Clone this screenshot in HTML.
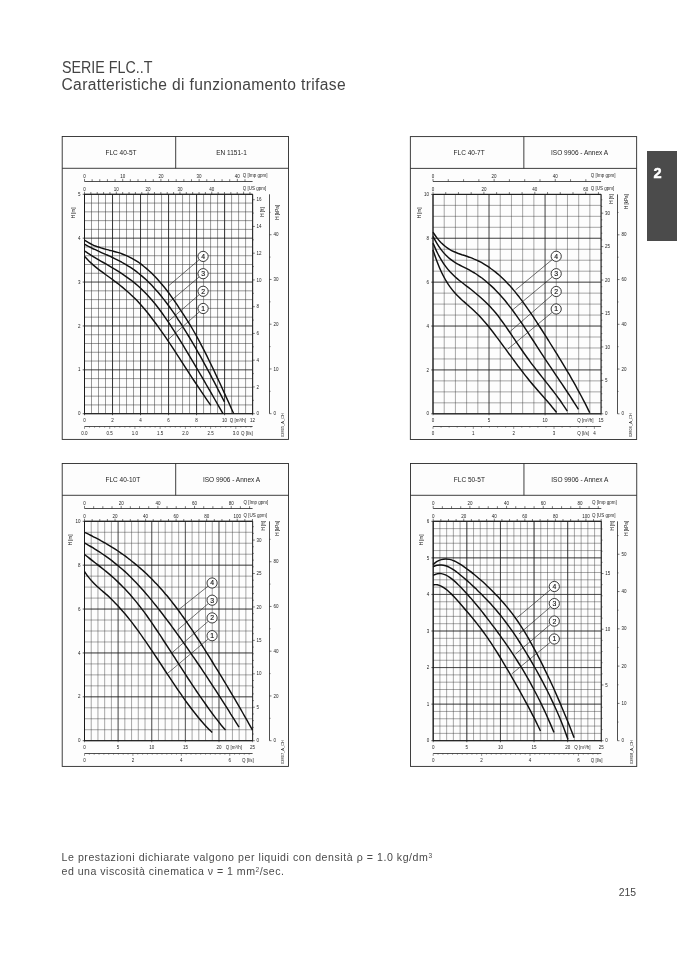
<!DOCTYPE html>
<html lang="it"><head><meta charset="utf-8"><title>SERIE FLC..T</title>
<style>
html,body{margin:0;padding:0;background:#fff;}
body{width:677px;height:958px;position:relative;overflow:hidden;font-family:"Liberation Sans", sans-serif;}
.t{position:absolute;white-space:nowrap;color:#3a3a3a;}
#h1{left:61.5px;top:59px;font-size:15.6px;line-height:17px;transform:scaleX(0.915);transform-origin:0 0;color:#444;}
#h2{left:61.5px;top:76px;font-size:15.6px;line-height:17px;letter-spacing:0.35px;color:#444;}
#f1{left:61.5px;top:849.5px;font-size:10.6px;line-height:14px;color:#4a4a4a;letter-spacing:0.55px;}
#f2{left:61.5px;top:864.4px;font-size:10.6px;line-height:14px;color:#4a4a4a;letter-spacing:0.49px;}
#pn{left:618.8px;top:887.4px;font-size:10.4px;line-height:12px;color:#444;}
#tab{position:absolute;left:647px;top:150.8px;width:30px;height:89.8px;background:#4b4b4b;}
#tabn{position:absolute;left:647px;top:164.8px;width:21px;text-align:center;color:#fff;font-weight:bold;font-size:14.6px;line-height:16px;-webkit-text-stroke:0.45px #fff;}
svg{position:absolute;left:0;top:0;}
svg text{font-family:"Liberation Sans", sans-serif;}
sup{font-size:62%;vertical-align:baseline;position:relative;top:-0.45em;}
</style></head><body>
<div class="t" id="h1">SERIE FLC..T</div>
<div class="t" id="h2">Caratteristiche di funzionamento trifase</div>
<svg width="677" height="958" viewBox="0 0 677 958">
<rect x="62.20" y="136.50" width="226.3" height="302.9" fill="#fdfdfd" stroke="#2a2a2a" stroke-width="0.9"/>
<line x1="62.20" y1="168.30" x2="288.50" y2="168.30" stroke="#2a2a2a" stroke-width="0.9"/>
<line x1="175.70" y1="136.50" x2="175.70" y2="168.30" stroke="#2a2a2a" stroke-width="0.9"/>
<text x="105.5" y="154.8" font-size="6.5" text-anchor="start" fill="#222">FLC 40-5T</text>
<text x="231.5" y="154.8" font-size="6.5" text-anchor="middle" fill="#222">EN 1151-1</text>
<path d="M84.50,194.30V413.70M91.50,194.30V413.70M98.51,194.30V413.70M105.51,194.30V413.70M112.52,194.30V413.70M119.52,194.30V413.70M126.53,194.30V413.70M133.53,194.30V413.70M140.53,194.30V413.70M147.54,194.30V413.70M154.54,194.30V413.70M161.55,194.30V413.70M168.55,194.30V413.70M175.55,194.30V413.70M182.56,194.30V413.70M189.56,194.30V413.70M196.57,194.30V413.70M203.57,194.30V413.70M210.58,194.30V413.70M217.58,194.30V413.70M224.58,194.30V413.70M231.59,194.30V413.70M238.59,194.30V413.70M245.60,194.30V413.70M252.60,194.30V413.70M84.50,413.70H252.60M84.50,404.92H252.60M84.50,396.15H252.60M84.50,387.37H252.60M84.50,378.60H252.60M84.50,369.82H252.60M84.50,361.04H252.60M84.50,352.27H252.60M84.50,343.49H252.60M84.50,334.72H252.60M84.50,325.94H252.60M84.50,317.16H252.60M84.50,308.39H252.60M84.50,299.61H252.60M84.50,290.84H252.60M84.50,282.06H252.60M84.50,273.28H252.60M84.50,264.51H252.60M84.50,255.73H252.60M84.50,246.96H252.60M84.50,238.18H252.60M84.50,229.40H252.60M84.50,220.63H252.60M84.50,211.85H252.60M84.50,203.08H252.60M84.50,194.30H252.60" stroke="#333" stroke-width="0.5" fill="none"/>
<path d="M84.50,194.30V415.20M112.52,194.30V415.20M140.53,194.30V415.20M168.55,194.30V415.20M196.57,194.30V415.20M224.58,194.30V415.20M252.60,194.30V415.20" stroke="#1a1a1a" stroke-width="0.75" fill="none"/>
<path d="M82.70,413.70H84.50M82.70,369.82H84.50M82.70,325.94H84.50M82.70,282.06H84.50M82.70,238.18H84.50M82.70,194.30H84.50" stroke="#1a1a1a" stroke-width="0.7" fill="none"/>
<path d="M84.50,413.70H252.60M84.50,369.82H252.60M84.50,325.94H252.60M84.50,282.06H252.60M84.50,238.18H252.60M84.50,194.30H252.60" stroke="#1a1a1a" stroke-width="0.5" fill="none"/>
<path d="M252.60,194.30H84.50V413.70H252.60" fill="none" stroke="#1a1a1a" stroke-width="1" stroke-linejoin="miter"/>
<path d="M252.60,194.30V413.70" fill="none" stroke="#222" stroke-width="0.65"/>
<text x="80.5" y="415.3" font-size="4.5" text-anchor="end" fill="#1c1c1c">0</text>
<text x="80.5" y="371.4" font-size="4.5" text-anchor="end" fill="#1c1c1c">1</text>
<text x="80.5" y="327.5" font-size="4.5" text-anchor="end" fill="#1c1c1c">2</text>
<text x="80.5" y="283.7" font-size="4.5" text-anchor="end" fill="#1c1c1c">3</text>
<text x="80.5" y="239.8" font-size="4.5" text-anchor="end" fill="#1c1c1c">4</text>
<text x="80.5" y="195.9" font-size="4.5" text-anchor="end" fill="#1c1c1c">5</text>
<text transform="translate(74.6,207.5) rotate(-90)" font-size="4.5" text-anchor="end" fill="#1c1c1c">H [m]</text>
<text x="84.5" y="422.0" font-size="4.5" text-anchor="middle" fill="#1c1c1c">0</text>
<text x="112.5" y="422.0" font-size="4.5" text-anchor="middle" fill="#1c1c1c">2</text>
<text x="140.5" y="422.0" font-size="4.5" text-anchor="middle" fill="#1c1c1c">4</text>
<text x="168.6" y="422.0" font-size="4.5" text-anchor="middle" fill="#1c1c1c">6</text>
<text x="196.6" y="422.0" font-size="4.5" text-anchor="middle" fill="#1c1c1c">8</text>
<text x="224.6" y="422.0" font-size="4.5" text-anchor="middle" fill="#1c1c1c">10</text>
<text x="252.6" y="422.0" font-size="4.5" text-anchor="middle" fill="#1c1c1c">12</text>
<text x="237.9" y="422.0" font-size="4.5" text-anchor="middle" fill="#1c1c1c">Q [m³/h]</text>
<line x1="84.5" y1="426.5" x2="252.6" y2="426.5" stroke="#222" stroke-width="0.8"/>
<path d="M84.50,426.50V428.90M89.54,426.50V427.70M94.59,426.50V427.70M99.63,426.50V427.70M104.67,426.50V427.70M109.72,426.50V428.90M114.76,426.50V427.70M119.80,426.50V427.70M124.84,426.50V427.70M129.89,426.50V427.70M134.93,426.50V428.90M139.97,426.50V427.70M145.02,426.50V427.70M150.06,426.50V427.70M155.10,426.50V427.70M160.15,426.50V428.90M165.19,426.50V427.70M170.23,426.50V427.70M175.27,426.50V427.70M180.32,426.50V427.70M185.36,426.50V428.90M190.40,426.50V427.70M195.45,426.50V427.70M200.49,426.50V427.70M205.53,426.50V427.70M210.58,426.50V428.90M215.62,426.50V427.70M220.66,426.50V427.70M225.70,426.50V427.70M230.75,426.50V427.70M235.79,426.50V428.90M240.83,426.50V427.70M245.88,426.50V427.70M250.92,426.50V427.70" stroke="#333" stroke-width="0.5" fill="none"/>
<text x="84.5" y="434.8" font-size="4.5" text-anchor="middle" fill="#1c1c1c">0.0</text>
<text x="109.7" y="434.8" font-size="4.5" text-anchor="middle" fill="#1c1c1c">0.5</text>
<text x="134.9" y="434.8" font-size="4.5" text-anchor="middle" fill="#1c1c1c">1.0</text>
<text x="160.1" y="434.8" font-size="4.5" text-anchor="middle" fill="#1c1c1c">1.5</text>
<text x="185.4" y="434.8" font-size="4.5" text-anchor="middle" fill="#1c1c1c">2.0</text>
<text x="210.6" y="434.8" font-size="4.5" text-anchor="middle" fill="#1c1c1c">2.5</text>
<text x="235.8" y="434.8" font-size="4.5" text-anchor="middle" fill="#1c1c1c">3.0</text>
<text x="247.0" y="434.8" font-size="4.5" text-anchor="middle" fill="#1c1c1c">Q [l/s]</text>
<line x1="84.5" y1="181.5" x2="252.6" y2="181.5" stroke="#222" stroke-width="0.8"/>
<path d="M84.50,178.90V181.50M92.14,179.20V181.50M99.78,179.20V181.50M107.43,179.20V181.50M115.07,179.20V181.50M122.71,178.90V181.50M130.35,179.20V181.50M138.00,179.20V181.50M145.64,179.20V181.50M153.28,179.20V181.50M160.92,178.90V181.50M168.57,179.20V181.50M176.21,179.20V181.50M183.85,179.20V181.50M191.49,179.20V181.50M199.13,178.90V181.50M206.78,179.20V181.50M214.42,179.20V181.50M222.06,179.20V181.50M229.70,179.20V181.50M237.35,178.90V181.50M244.99,179.20V181.50" stroke="#222" stroke-width="0.6" fill="none"/>
<text x="84.5" y="178.2" font-size="4.5" text-anchor="middle" fill="#1c1c1c">0</text>
<text x="122.7" y="178.2" font-size="4.5" text-anchor="middle" fill="#1c1c1c">10</text>
<text x="160.9" y="178.2" font-size="4.5" text-anchor="middle" fill="#1c1c1c">20</text>
<text x="199.1" y="178.2" font-size="4.5" text-anchor="middle" fill="#1c1c1c">30</text>
<text x="237.3" y="178.2" font-size="4.5" text-anchor="middle" fill="#1c1c1c">40</text>
<text x="242.8" y="176.5" font-size="4.5" text-anchor="start" fill="#1c1c1c">Q [Imp gpm]</text>
<path d="M84.50,191.70V194.30M90.86,192.00V194.30M97.23,192.00V194.30M103.59,192.00V194.30M109.95,192.00V194.30M116.32,191.70V194.30M122.68,192.00V194.30M129.04,192.00V194.30M135.40,192.00V194.30M141.77,192.00V194.30M148.13,191.70V194.30M154.49,192.00V194.30M160.86,192.00V194.30M167.22,192.00V194.30M173.58,192.00V194.30M179.95,191.70V194.30M186.31,192.00V194.30M192.67,192.00V194.30M199.04,192.00V194.30M205.40,192.00V194.30M211.76,191.70V194.30M218.12,192.00V194.30M224.49,192.00V194.30M230.85,192.00V194.30M237.21,192.00V194.30M243.58,191.70V194.30M249.94,192.00V194.30" stroke="#222" stroke-width="0.6" fill="none"/>
<text x="84.5" y="190.7" font-size="4.5" text-anchor="middle" fill="#1c1c1c">0</text>
<text x="116.3" y="190.7" font-size="4.5" text-anchor="middle" fill="#1c1c1c">10</text>
<text x="148.1" y="190.7" font-size="4.5" text-anchor="middle" fill="#1c1c1c">20</text>
<text x="179.9" y="190.7" font-size="4.5" text-anchor="middle" fill="#1c1c1c">30</text>
<text x="211.8" y="190.7" font-size="4.5" text-anchor="middle" fill="#1c1c1c">40</text>
<text x="242.8" y="189.5" font-size="4.5" text-anchor="start" fill="#1c1c1c">Q [US gpm]</text>
<path d="M252.60,413.70H254.80M252.60,400.33H253.80M252.60,386.95H254.80M252.60,373.58H253.80M252.60,360.20H254.80M252.60,346.83H253.80M252.60,333.45H254.80M252.60,320.08H253.80M252.60,306.70H254.80M252.60,293.33H253.80M252.60,279.95H254.80M252.60,266.58H253.80M252.60,253.20H254.80M252.60,239.83H253.80M252.60,226.46H254.80M252.60,213.08H253.80M252.60,199.71H254.80" stroke="#222" stroke-width="0.6" fill="none"/>
<text x="256.6" y="415.3" font-size="4.5" text-anchor="start" fill="#1c1c1c">0</text>
<text x="256.6" y="388.6" font-size="4.5" text-anchor="start" fill="#1c1c1c">2</text>
<text x="256.6" y="361.8" font-size="4.5" text-anchor="start" fill="#1c1c1c">4</text>
<text x="256.6" y="335.1" font-size="4.5" text-anchor="start" fill="#1c1c1c">6</text>
<text x="256.6" y="308.3" font-size="4.5" text-anchor="start" fill="#1c1c1c">8</text>
<text x="256.6" y="281.6" font-size="4.5" text-anchor="start" fill="#1c1c1c">10</text>
<text x="256.6" y="254.8" font-size="4.5" text-anchor="start" fill="#1c1c1c">12</text>
<text x="256.6" y="228.1" font-size="4.5" text-anchor="start" fill="#1c1c1c">14</text>
<text x="256.6" y="201.3" font-size="4.5" text-anchor="start" fill="#1c1c1c">16</text>
<text transform="translate(264.4,207.2) rotate(-90)" font-size="4.5" text-anchor="end" fill="#1c1c1c">H [ft]</text>
<line x1="269.5" y1="194.3" x2="269.5" y2="413.7" stroke="#222" stroke-width="0.8"/>
<path d="M269.50,413.70H271.50M269.50,391.33H270.50M269.50,368.95H271.50M269.50,346.58H270.50M269.50,324.21H271.50M269.50,301.84H270.50M269.50,279.46H271.50M269.50,257.09H270.50M269.50,234.72H271.50M269.50,212.35H270.50" stroke="#222" stroke-width="0.6" fill="none"/>
<text x="273.5" y="415.3" font-size="4.5" text-anchor="start" fill="#1c1c1c">0</text>
<text x="273.5" y="370.6" font-size="4.5" text-anchor="start" fill="#1c1c1c">10</text>
<text x="273.5" y="325.8" font-size="4.5" text-anchor="start" fill="#1c1c1c">20</text>
<text x="273.5" y="281.1" font-size="4.5" text-anchor="start" fill="#1c1c1c">30</text>
<text x="273.5" y="236.3" font-size="4.5" text-anchor="start" fill="#1c1c1c">40</text>
<text transform="translate(278.9,205.1) rotate(-90)" font-size="4.5" text-anchor="end" fill="#1c1c1c">H [kPa]</text>
<text transform="translate(283.8,425.0) rotate(-90)" font-size="4" text-anchor="middle" fill="#1c1c1c">02805_A_CH</text>
<line x1="199.1" y1="259.8" x2="168.0" y2="286.3" stroke="#222" stroke-width="0.65"/>
<line x1="199.1" y1="277.0" x2="167.6" y2="303.6" stroke="#222" stroke-width="0.65"/>
<line x1="199.2" y1="294.7" x2="168.2" y2="321.5" stroke="#222" stroke-width="0.65"/>
<line x1="199.2" y1="312.0" x2="168.4" y2="339.3" stroke="#222" stroke-width="0.65"/>
<path d="M84.4,240.2C85.1,240.6 87.2,242.0 88.5,242.7C89.9,243.5 91.3,244.2 92.7,244.8C94.1,245.5 95.5,246.0 96.8,246.5C98.2,247.0 99.6,247.5 101.0,247.9C102.4,248.3 103.7,248.7 105.1,249.1C106.5,249.5 107.9,249.8 109.3,250.2C110.6,250.5 112.0,250.9 113.4,251.2C114.8,251.6 116.2,252.0 117.6,252.4C118.9,252.8 120.3,253.2 121.7,253.7C123.1,254.2 124.5,254.7 125.8,255.3C127.2,255.9 128.6,256.6 130.0,257.3C131.4,258.0 132.8,258.8 134.1,259.6C135.5,260.4 136.9,261.3 138.3,262.2C139.7,263.2 141.0,264.2 142.4,265.2C143.8,266.3 145.2,267.4 146.6,268.6C147.9,269.8 149.3,271.0 150.7,272.3C152.1,273.6 153.5,275.0 154.9,276.4C156.2,277.8 157.6,279.3 159.0,280.9C160.4,282.5 161.8,284.1 163.1,285.8C164.5,287.4 165.9,289.2 167.3,291.0C168.7,292.8 170.1,294.7 171.4,296.6C172.8,298.6 174.2,300.6 175.6,302.6C177.0,304.6 178.3,306.7 179.7,308.8C181.1,310.9 182.5,313.0 183.9,315.2C185.2,317.3 186.6,319.5 188.0,321.7C189.4,323.9 190.8,326.1 192.2,328.5C193.5,330.8 194.9,333.2 196.3,335.6C197.7,338.1 199.1,340.7 200.4,343.3C201.8,345.9 203.2,348.6 204.6,351.4C206.0,354.1 207.4,356.9 208.7,359.7C210.1,362.6 211.5,365.4 212.9,368.3C214.3,371.2 215.6,374.1 217.0,377.1C218.4,380.1 219.8,383.0 221.2,386.0C222.5,389.0 223.9,392.1 225.3,395.1C226.7,398.1 228.1,401.2 229.5,404.3C230.8,407.3 232.9,412.0 233.6,413.5" stroke="#111" stroke-width="1.45" fill="none" stroke-linejoin="round"/>
<path d="M84.4,244.1C85.1,244.5 87.1,245.6 88.5,246.4C89.9,247.1 91.3,247.8 92.6,248.5C94.0,249.1 95.4,249.8 96.8,250.4C98.1,251.1 99.5,251.7 100.9,252.3C102.2,252.9 103.6,253.5 105.0,254.1C106.4,254.7 107.7,255.3 109.1,255.9C110.5,256.6 111.9,257.2 113.2,257.8C114.6,258.5 116.0,259.2 117.3,259.8C118.7,260.5 120.1,261.3 121.5,262.0C122.8,262.8 124.2,263.5 125.6,264.4C126.9,265.2 128.3,266.0 129.7,266.9C131.1,267.8 132.4,268.7 133.8,269.7C135.2,270.7 136.6,271.7 137.9,272.8C139.3,273.9 140.7,275.0 142.0,276.1C143.4,277.3 144.8,278.5 146.2,279.8C147.5,281.1 148.9,282.4 150.3,283.8C151.7,285.2 153.0,286.6 154.4,288.2C155.8,289.7 157.1,291.2 158.5,292.8C159.9,294.5 161.3,296.1 162.6,297.9C164.0,299.6 165.4,301.4 166.8,303.2C168.1,305.0 169.5,306.9 170.9,308.8C172.2,310.7 173.6,312.7 175.0,314.7C176.4,316.7 177.7,318.8 179.1,320.9C180.5,323.0 181.9,325.1 183.2,327.3C184.6,329.5 186.0,331.7 187.3,334.0C188.7,336.2 190.1,338.5 191.5,340.8C192.8,343.1 194.2,345.5 195.6,347.9C196.9,350.3 198.3,352.7 199.7,355.2C201.1,357.6 202.4,360.1 203.8,362.6C205.2,365.1 206.6,367.6 207.9,370.2C209.3,372.7 210.7,375.3 212.0,377.9C213.4,380.5 214.8,383.1 216.2,385.8C217.5,388.4 218.9,391.1 220.3,393.8C221.7,396.4 223.7,400.5 224.4,401.9" stroke="#111" stroke-width="1.45" fill="none" stroke-linejoin="round"/>
<path d="M84.4,250.8C85.1,251.2 87.2,252.7 88.6,253.6C90.0,254.5 91.4,255.4 92.8,256.3C94.2,257.2 95.6,258.0 97.0,258.8C98.4,259.7 99.8,260.5 101.2,261.3C102.6,262.1 104.0,262.9 105.4,263.7C106.8,264.6 108.2,265.4 109.6,266.2C111.0,267.0 112.4,267.8 113.8,268.7C115.2,269.5 116.6,270.4 118.0,271.2C119.4,272.1 120.8,273.0 122.2,273.9C123.6,274.8 125.0,275.8 126.4,276.8C127.8,277.8 129.2,278.8 130.6,279.8C132.0,280.9 133.4,282.0 134.8,283.1C136.2,284.3 137.6,285.5 139.0,286.7C140.4,288.0 141.8,289.3 143.2,290.7C144.6,292.1 146.0,293.5 147.4,295.0C148.8,296.5 150.2,298.1 151.6,299.7C153.0,301.3 154.4,303.0 155.8,304.8C157.2,306.6 158.6,308.4 160.0,310.3C161.4,312.2 162.8,314.1 164.2,316.1C165.6,318.1 167.0,320.1 168.4,322.2C169.8,324.3 171.2,326.4 172.6,328.6C174.0,330.7 175.4,332.9 176.8,335.1C178.2,337.3 179.6,339.6 181.0,341.9C182.4,344.1 183.8,346.4 185.2,348.8C186.6,351.1 188.0,353.4 189.4,355.8C190.8,358.1 192.2,360.5 193.6,362.8C195.0,365.2 196.4,367.6 197.8,370.0C199.2,372.4 200.6,374.8 202.0,377.2C203.4,379.6 204.8,382.0 206.2,384.5C207.6,386.9 209.0,389.3 210.4,391.7C211.8,394.2 213.2,396.6 214.6,399.0C216.0,401.5 217.4,403.9 218.8,406.3C220.2,408.7 222.3,412.4 223.0,413.6" stroke="#111" stroke-width="1.45" fill="none" stroke-linejoin="round"/>
<path d="M84.4,256.3C85.1,257.0 87.2,259.3 88.6,260.7C90.0,262.0 91.4,263.3 92.8,264.6C94.2,265.8 95.6,267.0 97.0,268.1C98.4,269.2 99.8,270.3 101.3,271.4C102.7,272.4 104.1,273.4 105.5,274.5C106.9,275.5 108.3,276.5 109.7,277.5C111.1,278.5 112.5,279.5 113.9,280.6C115.3,281.6 116.7,282.7 118.1,283.7C119.5,284.8 120.9,285.9 122.3,287.1C123.7,288.3 125.1,289.5 126.5,290.7C127.9,291.9 129.3,293.2 130.7,294.5C132.2,295.8 133.6,297.2 135.0,298.6C136.4,300.0 137.8,301.5 139.2,303.0C140.6,304.5 142.0,306.1 143.4,307.8C144.8,309.4 146.2,311.1 147.6,312.8C149.0,314.6 150.4,316.4 151.8,318.2C153.2,320.0 154.6,321.9 156.0,323.8C157.4,325.7 158.8,327.7 160.2,329.6C161.6,331.6 163.0,333.6 164.5,335.7C165.9,337.7 167.3,339.8 168.7,341.9C170.1,343.9 171.5,346.0 172.9,348.2C174.3,350.3 175.7,352.4 177.1,354.6C178.5,356.7 179.9,358.9 181.3,361.1C182.7,363.2 184.1,365.4 185.5,367.6C186.9,369.7 188.3,371.9 189.7,374.1C191.1,376.2 192.5,378.4 193.9,380.5C195.4,382.7 196.8,384.8 198.2,386.9C199.6,389.0 201.0,391.1 202.4,393.2C203.8,395.3 205.2,397.4 206.6,399.4C208.0,401.4 210.1,404.4 210.8,405.4" stroke="#111" stroke-width="1.45" fill="none" stroke-linejoin="round"/>
<circle cx="203.1" cy="256.4" r="5.1" fill="#fdfdfd" stroke="#1a1a1a" stroke-width="0.85"/>
<text x="203.1" y="258.8" font-size="6.8" text-anchor="middle" fill="#111" stroke="#111" stroke-width="0.15">4</text>
<circle cx="203.1" cy="273.7" r="5.1" fill="#fdfdfd" stroke="#1a1a1a" stroke-width="0.85"/>
<text x="203.1" y="276.1" font-size="6.8" text-anchor="middle" fill="#111" stroke="#111" stroke-width="0.15">3</text>
<circle cx="203.1" cy="291.3" r="5.1" fill="#fdfdfd" stroke="#1a1a1a" stroke-width="0.85"/>
<text x="203.1" y="293.7" font-size="6.8" text-anchor="middle" fill="#111" stroke="#111" stroke-width="0.15">2</text>
<circle cx="203.1" cy="308.5" r="5.1" fill="#fdfdfd" stroke="#1a1a1a" stroke-width="0.85"/>
<text x="203.1" y="310.9" font-size="6.8" text-anchor="middle" fill="#111" stroke="#111" stroke-width="0.15">1</text><rect x="410.35" y="136.60" width="226.3" height="302.9" fill="#fdfdfd" stroke="#2a2a2a" stroke-width="0.9"/>
<line x1="410.35" y1="168.40" x2="636.65" y2="168.40" stroke="#2a2a2a" stroke-width="0.9"/>
<line x1="523.85" y1="136.60" x2="523.85" y2="168.40" stroke="#2a2a2a" stroke-width="0.9"/>
<text x="453.6" y="154.9" font-size="6.5" text-anchor="start" fill="#222">FLC 40-7T</text>
<text x="579.6" y="154.9" font-size="6.5" text-anchor="middle" fill="#222">ISO 9906 - Annex A</text>
<path d="M433.00,194.40V413.80M444.21,194.40V413.80M455.41,194.40V413.80M466.62,194.40V413.80M477.83,194.40V413.80M489.03,194.40V413.80M500.24,194.40V413.80M511.45,194.40V413.80M522.65,194.40V413.80M533.86,194.40V413.80M545.07,194.40V413.80M556.27,194.40V413.80M567.48,194.40V413.80M578.69,194.40V413.80M589.89,194.40V413.80M601.10,194.40V413.80M433.00,413.80H601.10M433.00,402.83H601.10M433.00,391.86H601.10M433.00,380.89H601.10M433.00,369.92H601.10M433.00,358.95H601.10M433.00,347.98H601.10M433.00,337.01H601.10M433.00,326.04H601.10M433.00,315.07H601.10M433.00,304.10H601.10M433.00,293.13H601.10M433.00,282.16H601.10M433.00,271.19H601.10M433.00,260.22H601.10M433.00,249.25H601.10M433.00,238.28H601.10M433.00,227.31H601.10M433.00,216.34H601.10M433.00,205.37H601.10M433.00,194.40H601.10" stroke="#333" stroke-width="0.43" fill="none"/>
<path d="M433.00,194.40V415.30M489.03,194.40V415.30M545.07,194.40V415.30M601.10,194.40V415.30" stroke="#1a1a1a" stroke-width="0.55" fill="none"/>
<path d="M431.20,413.80H433.00M431.20,369.92H433.00M431.20,326.04H433.00M431.20,282.16H433.00M431.20,238.28H433.00M431.20,194.40H433.00" stroke="#1a1a1a" stroke-width="0.7" fill="none"/>
<path d="M433.00,413.80H601.10M433.00,369.92H601.10M433.00,326.04H601.10M433.00,282.16H601.10M433.00,238.28H601.10M433.00,194.40H601.10" stroke="#1a1a1a" stroke-width="0.62" fill="none"/>
<path d="M601.10,194.40H433.00V413.80H601.10" fill="none" stroke="#1a1a1a" stroke-width="1" stroke-linejoin="miter"/>
<path d="M601.10,194.40V413.80" fill="none" stroke="#222" stroke-width="0.65"/>
<text x="429.0" y="415.4" font-size="4.5" text-anchor="end" fill="#1c1c1c">0</text>
<text x="429.0" y="371.5" font-size="4.5" text-anchor="end" fill="#1c1c1c">2</text>
<text x="429.0" y="327.6" font-size="4.5" text-anchor="end" fill="#1c1c1c">4</text>
<text x="429.0" y="283.8" font-size="4.5" text-anchor="end" fill="#1c1c1c">6</text>
<text x="429.0" y="239.9" font-size="4.5" text-anchor="end" fill="#1c1c1c">8</text>
<text x="429.0" y="196.0" font-size="4.5" text-anchor="end" fill="#1c1c1c">10</text>
<text transform="translate(420.8,207.6) rotate(-90)" font-size="4.5" text-anchor="end" fill="#1c1c1c">H [m]</text>
<text x="433.0" y="422.1" font-size="4.5" text-anchor="middle" fill="#1c1c1c">0</text>
<text x="489.0" y="422.1" font-size="4.5" text-anchor="middle" fill="#1c1c1c">5</text>
<text x="545.1" y="422.1" font-size="4.5" text-anchor="middle" fill="#1c1c1c">10</text>
<text x="601.1" y="422.1" font-size="4.5" text-anchor="middle" fill="#1c1c1c">15</text>
<text x="585.4" y="422.1" font-size="4.5" text-anchor="middle" fill="#1c1c1c">Q [m³/h]</text>
<line x1="433.0" y1="426.5" x2="601.1" y2="426.5" stroke="#222" stroke-width="0.8"/>
<path d="M433.00,426.50V428.90M441.07,426.50V427.70M449.14,426.50V427.70M457.21,426.50V427.70M465.28,426.50V427.70M473.34,426.50V428.90M481.41,426.50V427.70M489.48,426.50V427.70M497.55,426.50V427.70M505.62,426.50V427.70M513.69,426.50V428.90M521.76,426.50V427.70M529.83,426.50V427.70M537.89,426.50V427.70M545.96,426.50V427.70M554.03,426.50V428.90M562.10,426.50V427.70M570.17,426.50V427.70M578.24,426.50V427.70M586.31,426.50V427.70M594.38,426.50V428.90" stroke="#333" stroke-width="0.5" fill="none"/>
<text x="433.0" y="434.8" font-size="4.5" text-anchor="middle" fill="#1c1c1c">0</text>
<text x="473.3" y="434.8" font-size="4.5" text-anchor="middle" fill="#1c1c1c">1</text>
<text x="513.7" y="434.8" font-size="4.5" text-anchor="middle" fill="#1c1c1c">2</text>
<text x="554.0" y="434.8" font-size="4.5" text-anchor="middle" fill="#1c1c1c">3</text>
<text x="594.4" y="434.8" font-size="4.5" text-anchor="middle" fill="#1c1c1c">4</text>
<text x="583.2" y="434.8" font-size="4.5" text-anchor="middle" fill="#1c1c1c">Q [l/s]</text>
<line x1="433.0" y1="181.5" x2="601.1" y2="181.5" stroke="#222" stroke-width="0.8"/>
<path d="M433.00,178.90V181.50M448.28,179.20V181.50M463.57,179.20V181.50M478.85,179.20V181.50M494.14,178.90V181.50M509.42,179.20V181.50M524.71,179.20V181.50M539.99,179.20V181.50M555.28,178.90V181.50M570.56,179.20V181.50M585.85,179.20V181.50" stroke="#222" stroke-width="0.6" fill="none"/>
<text x="433.0" y="178.2" font-size="4.5" text-anchor="middle" fill="#1c1c1c">0</text>
<text x="494.1" y="178.2" font-size="4.5" text-anchor="middle" fill="#1c1c1c">20</text>
<text x="555.3" y="178.2" font-size="4.5" text-anchor="middle" fill="#1c1c1c">40</text>
<text x="590.8" y="176.5" font-size="4.5" text-anchor="start" fill="#1c1c1c">Q [Imp gpm]</text>
<path d="M433.00,191.80V194.40M445.73,192.10V194.40M458.45,192.10V194.40M471.18,192.10V194.40M483.90,191.80V194.40M496.63,192.10V194.40M509.36,192.10V194.40M522.08,192.10V194.40M534.81,191.80V194.40M547.54,192.10V194.40M560.26,192.10V194.40M572.99,192.10V194.40M585.71,191.80V194.40M598.44,192.10V194.40" stroke="#222" stroke-width="0.6" fill="none"/>
<text x="433.0" y="190.8" font-size="4.5" text-anchor="middle" fill="#1c1c1c">0</text>
<text x="483.9" y="190.8" font-size="4.5" text-anchor="middle" fill="#1c1c1c">20</text>
<text x="534.8" y="190.8" font-size="4.5" text-anchor="middle" fill="#1c1c1c">40</text>
<text x="585.7" y="190.8" font-size="4.5" text-anchor="middle" fill="#1c1c1c">60</text>
<text x="590.8" y="189.6" font-size="4.5" text-anchor="start" fill="#1c1c1c">Q [US gpm]</text>
<path d="M601.10,413.80H603.30M601.10,407.11H602.30M601.10,400.43H602.30M601.10,393.74H602.30M601.10,387.05H602.30M601.10,380.36H603.30M601.10,373.68H602.30M601.10,366.99H602.30M601.10,360.30H602.30M601.10,353.61H602.30M601.10,346.93H603.30M601.10,340.24H602.30M601.10,333.55H602.30M601.10,326.86H602.30M601.10,320.18H602.30M601.10,313.49H603.30M601.10,306.80H602.30M601.10,300.12H602.30M601.10,293.43H602.30M601.10,286.74H602.30M601.10,280.05H603.30M601.10,273.37H602.30M601.10,266.68H602.30M601.10,259.99H602.30M601.10,253.30H602.30M601.10,246.62H603.30M601.10,239.93H602.30M601.10,233.24H602.30M601.10,226.56H602.30M601.10,219.87H602.30M601.10,213.18H603.30M601.10,206.49H602.30M601.10,199.81H602.30" stroke="#222" stroke-width="0.6" fill="none"/>
<text x="605.1" y="415.4" font-size="4.5" text-anchor="start" fill="#1c1c1c">0</text>
<text x="605.1" y="382.0" font-size="4.5" text-anchor="start" fill="#1c1c1c">5</text>
<text x="605.1" y="348.5" font-size="4.5" text-anchor="start" fill="#1c1c1c">10</text>
<text x="605.1" y="315.1" font-size="4.5" text-anchor="start" fill="#1c1c1c">15</text>
<text x="605.1" y="281.7" font-size="4.5" text-anchor="start" fill="#1c1c1c">20</text>
<text x="605.1" y="248.2" font-size="4.5" text-anchor="start" fill="#1c1c1c">25</text>
<text x="605.1" y="214.8" font-size="4.5" text-anchor="start" fill="#1c1c1c">30</text>
<text transform="translate(613.3,194.2) rotate(-90)" font-size="4.5" text-anchor="end" fill="#1c1c1c">H [ft]</text>
<line x1="617.5" y1="194.4" x2="617.5" y2="413.8" stroke="#222" stroke-width="0.8"/>
<path d="M617.50,413.80H619.50M617.50,391.43H618.50M617.50,369.05H619.50M617.50,346.68H618.50M617.50,324.31H619.50M617.50,301.94H618.50M617.50,279.56H619.50M617.50,257.19H618.50M617.50,234.82H619.50M617.50,212.45H618.50" stroke="#222" stroke-width="0.6" fill="none"/>
<text x="621.5" y="415.4" font-size="4.5" text-anchor="start" fill="#1c1c1c">0</text>
<text x="621.5" y="370.7" font-size="4.5" text-anchor="start" fill="#1c1c1c">20</text>
<text x="621.5" y="325.9" font-size="4.5" text-anchor="start" fill="#1c1c1c">40</text>
<text x="621.5" y="281.2" font-size="4.5" text-anchor="start" fill="#1c1c1c">60</text>
<text x="621.5" y="236.4" font-size="4.5" text-anchor="start" fill="#1c1c1c">80</text>
<text transform="translate(627.5,194.2) rotate(-90)" font-size="4.5" text-anchor="end" fill="#1c1c1c">H [kPa]</text>
<text transform="translate(632.3,425.1) rotate(-90)" font-size="4" text-anchor="middle" fill="#1c1c1c">02806_A_CH</text>
<line x1="552.2" y1="259.6" x2="515.5" y2="290.0" stroke="#222" stroke-width="0.65"/>
<line x1="552.2" y1="277.0" x2="513.1" y2="309.5" stroke="#222" stroke-width="0.65"/>
<line x1="552.3" y1="294.9" x2="509.5" y2="332.0" stroke="#222" stroke-width="0.65"/>
<line x1="552.2" y1="312.3" x2="507.8" y2="349.1" stroke="#222" stroke-width="0.65"/>
<path d="M433.0,232.2C433.7,233.2 435.7,236.3 437.1,238.1C438.5,239.9 439.9,241.4 441.2,242.8C442.6,244.2 444.0,245.4 445.4,246.5C446.7,247.6 448.1,248.5 449.5,249.3C450.9,250.1 452.2,250.8 453.6,251.5C455.0,252.1 456.4,252.7 457.7,253.2C459.1,253.7 460.5,254.2 461.9,254.7C463.2,255.1 464.6,255.5 466.0,256.0C467.4,256.5 468.7,256.9 470.1,257.4C471.5,257.9 472.9,258.5 474.2,259.1C475.6,259.7 477.0,260.3 478.4,261.0C479.7,261.7 481.1,262.4 482.5,263.2C483.9,264.0 485.2,264.8 486.6,265.7C488.0,266.6 489.4,267.5 490.7,268.5C492.1,269.5 493.5,270.5 494.9,271.6C496.2,272.7 497.6,273.8 499.0,275.0C500.4,276.2 501.7,277.5 503.1,278.8C504.5,280.1 505.9,281.5 507.2,283.0C508.6,284.4 510.0,285.9 511.4,287.5C512.7,289.1 514.1,290.7 515.5,292.4C516.8,294.1 518.2,295.8 519.6,297.6C521.0,299.4 522.3,301.2 523.7,303.1C525.1,305.0 526.5,306.9 527.8,308.9C529.2,310.9 530.6,312.9 532.0,314.9C533.3,317.0 534.7,319.0 536.1,321.1C537.5,323.2 538.8,325.3 540.2,327.5C541.6,329.6 543.0,331.8 544.3,333.9C545.7,336.1 547.1,338.3 548.5,340.5C549.8,342.7 551.2,344.9 552.6,347.1C554.0,349.3 555.3,351.5 556.7,353.7C558.1,356.0 559.5,358.2 560.8,360.4C562.2,362.7 563.6,365.0 565.0,367.3C566.3,369.6 567.7,371.9 569.1,374.2C570.5,376.6 571.8,379.0 573.2,381.4C574.6,383.8 576.0,386.3 577.3,388.8C578.7,391.3 580.1,393.9 581.5,396.5C582.8,399.1 584.2,401.7 585.6,404.4C587.0,407.1 589.0,411.3 589.7,412.7" stroke="#111" stroke-width="1.45" fill="none" stroke-linejoin="round"/>
<path d="M433.0,236.4C433.7,237.7 435.8,241.6 437.2,243.9C438.5,246.1 439.9,248.1 441.3,249.9C442.7,251.8 444.1,253.3 445.5,254.8C446.9,256.2 448.2,257.5 449.6,258.6C451.0,259.7 452.4,260.7 453.8,261.7C455.2,262.6 456.6,263.4 457.9,264.2C459.3,264.9 460.7,265.6 462.1,266.3C463.5,267.0 464.9,267.7 466.3,268.4C467.6,269.1 469.0,269.8 470.4,270.6C471.8,271.4 473.2,272.2 474.6,273.0C476.0,273.9 477.3,274.8 478.7,275.8C480.1,276.7 481.5,277.8 482.9,278.8C484.3,279.9 485.7,281.0 487.0,282.2C488.4,283.4 489.8,284.6 491.2,285.9C492.6,287.2 494.0,288.5 495.4,289.9C496.7,291.3 498.1,292.8 499.5,294.3C500.9,295.8 502.3,297.4 503.7,299.0C505.1,300.6 506.4,302.3 507.8,304.1C509.2,305.8 510.6,307.7 512.0,309.5C513.4,311.4 514.8,313.3 516.1,315.2C517.5,317.2 518.9,319.2 520.3,321.2C521.7,323.2 523.1,325.3 524.5,327.4C525.8,329.4 527.2,331.5 528.6,333.6C530.0,335.8 531.4,337.9 532.8,340.0C534.2,342.1 535.5,344.3 536.9,346.4C538.3,348.6 539.7,350.7 541.1,352.8C542.5,354.9 543.9,357.0 545.2,359.1C546.6,361.2 548.0,363.3 549.4,365.4C550.8,367.4 552.2,369.5 553.6,371.6C554.9,373.6 556.3,375.7 557.7,377.7C559.1,379.8 560.5,381.8 561.9,383.9C563.3,386.0 564.6,388.0 566.0,390.1C567.4,392.2 568.8,394.3 570.2,396.4C571.6,398.6 573.0,400.7 574.3,402.9C575.7,405.0 577.8,408.3 578.5,409.4" stroke="#111" stroke-width="1.45" fill="none" stroke-linejoin="round"/>
<path d="M433.0,243.1C433.7,244.7 435.8,249.6 437.2,252.5C438.6,255.3 440.0,257.8 441.4,260.1C442.8,262.5 444.2,264.5 445.6,266.4C447.0,268.3 448.4,270.0 449.8,271.6C451.2,273.1 452.6,274.5 454.0,275.8C455.4,277.2 456.8,278.3 458.2,279.5C459.6,280.7 461.0,281.7 462.4,282.8C463.8,283.9 465.2,285.0 466.6,286.1C468.0,287.1 469.4,288.2 470.8,289.3C472.2,290.4 473.6,291.5 475.0,292.7C476.4,293.8 477.8,295.0 479.2,296.2C480.6,297.4 482.0,298.7 483.4,300.0C484.8,301.3 486.2,302.6 487.6,304.1C489.0,305.5 490.4,306.9 491.8,308.5C493.2,310.0 494.6,311.6 496.0,313.3C497.4,315.0 498.8,316.8 500.1,318.7C501.5,320.5 502.9,322.4 504.3,324.4C505.7,326.4 507.1,328.4 508.5,330.5C509.9,332.5 511.3,334.6 512.7,336.7C514.1,338.7 515.5,340.8 516.9,342.9C518.3,345.0 519.7,347.0 521.1,349.0C522.5,351.1 523.9,353.1 525.3,355.0C526.7,357.0 528.1,358.9 529.5,360.8C530.9,362.8 532.3,364.6 533.7,366.4C535.1,368.3 536.5,370.1 537.9,371.8C539.3,373.6 540.7,375.4 542.1,377.1C543.5,378.9 544.9,380.6 546.3,382.4C547.7,384.1 549.1,385.9 550.5,387.7C551.9,389.4 553.3,391.2 554.7,393.1C556.1,394.9 557.5,396.8 558.9,398.8C560.3,400.7 561.7,402.7 563.1,404.8C564.5,406.8 566.6,410.1 567.3,411.2" stroke="#111" stroke-width="1.45" fill="none" stroke-linejoin="round"/>
<path d="M433.0,250.0C433.7,252.0 435.8,258.5 437.3,262.2C438.7,265.9 440.1,269.2 441.5,272.3C442.9,275.3 444.4,277.9 445.8,280.4C447.2,282.8 448.6,285.0 450.0,286.9C451.5,288.9 452.9,290.7 454.3,292.3C455.7,293.9 457.2,295.4 458.6,296.8C460.0,298.2 461.4,299.4 462.8,300.7C464.3,302.0 465.7,303.2 467.1,304.5C468.5,305.7 469.9,307.0 471.4,308.2C472.8,309.5 474.2,310.8 475.6,312.2C477.0,313.5 478.5,314.9 479.9,316.4C481.3,317.9 482.7,319.5 484.1,321.2C485.6,322.8 487.0,324.5 488.4,326.3C489.8,328.1 491.2,329.9 492.7,331.7C494.1,333.6 495.5,335.5 496.9,337.4C498.4,339.3 499.8,341.2 501.2,343.1C502.6,345.1 504.0,347.0 505.5,348.9C506.9,350.9 508.3,352.8 509.7,354.7C511.1,356.7 512.6,358.6 514.0,360.5C515.4,362.4 516.8,364.3 518.2,366.2C519.7,368.1 521.1,370.0 522.5,371.8C523.9,373.6 525.3,375.5 526.8,377.2C528.2,379.0 529.6,380.8 531.0,382.5C532.4,384.2 533.9,385.9 535.3,387.5C536.7,389.2 538.1,390.8 539.6,392.4C541.0,394.0 542.4,395.6 543.8,397.2C545.2,398.8 546.7,400.5 548.1,402.1C549.5,403.8 550.9,405.4 552.3,407.2C553.8,408.9 555.9,411.6 556.6,412.5" stroke="#111" stroke-width="1.45" fill="none" stroke-linejoin="round"/>
<circle cx="556.2" cy="256.3" r="5.1" fill="#fdfdfd" stroke="#1a1a1a" stroke-width="0.85"/>
<text x="556.2" y="258.7" font-size="6.8" text-anchor="middle" fill="#111" stroke="#111" stroke-width="0.15">4</text>
<circle cx="556.2" cy="273.7" r="5.1" fill="#fdfdfd" stroke="#1a1a1a" stroke-width="0.85"/>
<text x="556.2" y="276.1" font-size="6.8" text-anchor="middle" fill="#111" stroke="#111" stroke-width="0.15">3</text>
<circle cx="556.2" cy="291.5" r="5.1" fill="#fdfdfd" stroke="#1a1a1a" stroke-width="0.85"/>
<text x="556.2" y="293.9" font-size="6.8" text-anchor="middle" fill="#111" stroke="#111" stroke-width="0.15">2</text>
<circle cx="556.2" cy="309.0" r="5.1" fill="#fdfdfd" stroke="#1a1a1a" stroke-width="0.85"/>
<text x="556.2" y="311.4" font-size="6.8" text-anchor="middle" fill="#111" stroke="#111" stroke-width="0.15">1</text><rect x="62.20" y="463.50" width="226.3" height="302.9" fill="#fdfdfd" stroke="#2a2a2a" stroke-width="0.9"/>
<line x1="62.20" y1="495.30" x2="288.50" y2="495.30" stroke="#2a2a2a" stroke-width="0.9"/>
<line x1="175.70" y1="463.50" x2="175.70" y2="495.30" stroke="#2a2a2a" stroke-width="0.9"/>
<text x="105.5" y="481.8" font-size="6.5" text-anchor="start" fill="#222">FLC 40-10T</text>
<text x="231.5" y="481.8" font-size="6.5" text-anchor="middle" fill="#222">ISO 9906 - Annex A</text>
<path d="M84.50,521.30V740.70M91.22,521.30V740.70M97.95,521.30V740.70M104.67,521.30V740.70M111.40,521.30V740.70M118.12,521.30V740.70M124.84,521.30V740.70M131.57,521.30V740.70M138.29,521.30V740.70M145.02,521.30V740.70M151.74,521.30V740.70M158.46,521.30V740.70M165.19,521.30V740.70M171.91,521.30V740.70M178.64,521.30V740.70M185.36,521.30V740.70M192.08,521.30V740.70M198.81,521.30V740.70M205.53,521.30V740.70M212.26,521.30V740.70M218.98,521.30V740.70M225.70,521.30V740.70M232.43,521.30V740.70M239.15,521.30V740.70M245.88,521.30V740.70M252.60,521.30V740.70M84.50,740.70H252.60M84.50,729.73H252.60M84.50,718.76H252.60M84.50,707.79H252.60M84.50,696.82H252.60M84.50,685.85H252.60M84.50,674.88H252.60M84.50,663.91H252.60M84.50,652.94H252.60M84.50,641.97H252.60M84.50,631.00H252.60M84.50,620.03H252.60M84.50,609.06H252.60M84.50,598.09H252.60M84.50,587.12H252.60M84.50,576.15H252.60M84.50,565.18H252.60M84.50,554.21H252.60M84.50,543.24H252.60M84.50,532.27H252.60M84.50,521.30H252.60" stroke="#333" stroke-width="0.43" fill="none"/>
<path d="M84.50,521.30V742.20M118.12,521.30V742.20M151.74,521.30V742.20M185.36,521.30V742.20M218.98,521.30V742.20M252.60,521.30V742.20" stroke="#1a1a1a" stroke-width="0.55" fill="none"/>
<path d="M82.70,740.70H84.50M82.70,696.82H84.50M82.70,652.94H84.50M82.70,609.06H84.50M82.70,565.18H84.50M82.70,521.30H84.50" stroke="#1a1a1a" stroke-width="0.7" fill="none"/>
<path d="M84.50,740.70H252.60M84.50,696.82H252.60M84.50,652.94H252.60M84.50,609.06H252.60M84.50,565.18H252.60M84.50,521.30H252.60" stroke="#1a1a1a" stroke-width="0.65" fill="none"/>
<path d="M252.60,521.30H84.50V740.70H252.60" fill="none" stroke="#1a1a1a" stroke-width="1" stroke-linejoin="miter"/>
<path d="M252.60,521.30V740.70" fill="none" stroke="#222" stroke-width="0.65"/>
<text x="80.5" y="742.3" font-size="4.5" text-anchor="end" fill="#1c1c1c">0</text>
<text x="80.5" y="698.4" font-size="4.5" text-anchor="end" fill="#1c1c1c">2</text>
<text x="80.5" y="654.5" font-size="4.5" text-anchor="end" fill="#1c1c1c">4</text>
<text x="80.5" y="610.7" font-size="4.5" text-anchor="end" fill="#1c1c1c">6</text>
<text x="80.5" y="566.8" font-size="4.5" text-anchor="end" fill="#1c1c1c">8</text>
<text x="80.5" y="522.9" font-size="4.5" text-anchor="end" fill="#1c1c1c">10</text>
<text transform="translate(72.0,534.5) rotate(-90)" font-size="4.5" text-anchor="end" fill="#1c1c1c">H [m]</text>
<text x="84.5" y="749.0" font-size="4.5" text-anchor="middle" fill="#1c1c1c">0</text>
<text x="118.1" y="749.0" font-size="4.5" text-anchor="middle" fill="#1c1c1c">5</text>
<text x="151.7" y="749.0" font-size="4.5" text-anchor="middle" fill="#1c1c1c">10</text>
<text x="185.4" y="749.0" font-size="4.5" text-anchor="middle" fill="#1c1c1c">15</text>
<text x="219.0" y="749.0" font-size="4.5" text-anchor="middle" fill="#1c1c1c">20</text>
<text x="252.6" y="749.0" font-size="4.5" text-anchor="middle" fill="#1c1c1c">25</text>
<text x="233.8" y="749.0" font-size="4.5" text-anchor="middle" fill="#1c1c1c">Q [m³/h]</text>
<line x1="84.5" y1="753.5" x2="252.6" y2="753.5" stroke="#222" stroke-width="0.8"/>
<path d="M84.50,753.50V755.90M89.34,753.50V754.70M94.18,753.50V754.70M99.02,753.50V754.70M103.87,753.50V754.70M108.71,753.50V754.70M113.55,753.50V754.70M118.39,753.50V754.70M123.23,753.50V754.70M128.07,753.50V754.70M132.91,753.50V755.90M137.75,753.50V754.70M142.60,753.50V754.70M147.44,753.50V754.70M152.28,753.50V754.70M157.12,753.50V754.70M161.96,753.50V754.70M166.80,753.50V754.70M171.64,753.50V754.70M176.48,753.50V754.70M181.33,753.50V755.90M186.17,753.50V754.70M191.01,753.50V754.70M195.85,753.50V754.70M200.69,753.50V754.70M205.53,753.50V754.70M210.37,753.50V754.70M215.21,753.50V754.70M220.06,753.50V754.70M224.90,753.50V754.70M229.74,753.50V755.90M234.58,753.50V754.70M239.42,753.50V754.70M244.26,753.50V754.70M249.10,753.50V754.70" stroke="#333" stroke-width="0.5" fill="none"/>
<text x="84.5" y="761.8" font-size="4.5" text-anchor="middle" fill="#1c1c1c">0</text>
<text x="132.9" y="761.8" font-size="4.5" text-anchor="middle" fill="#1c1c1c">2</text>
<text x="181.3" y="761.8" font-size="4.5" text-anchor="middle" fill="#1c1c1c">4</text>
<text x="229.7" y="761.8" font-size="4.5" text-anchor="middle" fill="#1c1c1c">6</text>
<text x="247.9" y="761.8" font-size="4.5" text-anchor="middle" fill="#1c1c1c">Q [l/s]</text>
<line x1="84.5" y1="508.5" x2="252.6" y2="508.5" stroke="#222" stroke-width="0.8"/>
<path d="M84.50,505.90V508.50M93.67,506.20V508.50M102.84,506.20V508.50M112.01,506.20V508.50M121.18,505.90V508.50M130.35,506.20V508.50M139.52,506.20V508.50M148.70,506.20V508.50M157.87,505.90V508.50M167.04,506.20V508.50M176.21,506.20V508.50M185.38,506.20V508.50M194.55,505.90V508.50M203.72,506.20V508.50M212.89,506.20V508.50M222.06,506.20V508.50M231.23,505.90V508.50M240.40,506.20V508.50M249.57,506.20V508.50" stroke="#222" stroke-width="0.6" fill="none"/>
<text x="84.5" y="505.2" font-size="4.5" text-anchor="middle" fill="#1c1c1c">0</text>
<text x="121.2" y="505.2" font-size="4.5" text-anchor="middle" fill="#1c1c1c">20</text>
<text x="157.9" y="505.2" font-size="4.5" text-anchor="middle" fill="#1c1c1c">40</text>
<text x="194.5" y="505.2" font-size="4.5" text-anchor="middle" fill="#1c1c1c">60</text>
<text x="231.2" y="505.2" font-size="4.5" text-anchor="middle" fill="#1c1c1c">80</text>
<text x="243.4" y="503.5" font-size="4.5" text-anchor="start" fill="#1c1c1c">Q [Imp gpm]</text>
<path d="M84.50,518.70V521.30M92.14,519.00V521.30M99.77,519.00V521.30M107.41,519.00V521.30M115.04,518.70V521.30M122.68,519.00V521.30M130.31,519.00V521.30M137.95,519.00V521.30M145.59,518.70V521.30M153.22,519.00V521.30M160.86,519.00V521.30M168.49,519.00V521.30M176.13,518.70V521.30M183.76,519.00V521.30M191.40,519.00V521.30M199.04,519.00V521.30M206.67,518.70V521.30M214.31,519.00V521.30M221.94,519.00V521.30M229.58,519.00V521.30M237.21,518.70V521.30M244.85,519.00V521.30M252.49,519.00V521.30" stroke="#222" stroke-width="0.6" fill="none"/>
<text x="84.5" y="517.7" font-size="4.5" text-anchor="middle" fill="#1c1c1c">0</text>
<text x="115.0" y="517.7" font-size="4.5" text-anchor="middle" fill="#1c1c1c">20</text>
<text x="145.6" y="517.7" font-size="4.5" text-anchor="middle" fill="#1c1c1c">40</text>
<text x="176.1" y="517.7" font-size="4.5" text-anchor="middle" fill="#1c1c1c">60</text>
<text x="206.7" y="517.7" font-size="4.5" text-anchor="middle" fill="#1c1c1c">80</text>
<text x="237.2" y="517.7" font-size="4.5" text-anchor="middle" fill="#1c1c1c">100</text>
<text x="243.4" y="516.5" font-size="4.5" text-anchor="start" fill="#1c1c1c">Q [US gpm]</text>
<path d="M252.60,740.70H254.80M252.60,734.01H253.80M252.60,727.33H253.80M252.60,720.64H253.80M252.60,713.95H253.80M252.60,707.26H254.80M252.60,700.58H253.80M252.60,693.89H253.80M252.60,687.20H253.80M252.60,680.51H253.80M252.60,673.83H254.80M252.60,667.14H253.80M252.60,660.45H253.80M252.60,653.76H253.80M252.60,647.08H253.80M252.60,640.39H254.80M252.60,633.70H253.80M252.60,627.02H253.80M252.60,620.33H253.80M252.60,613.64H253.80M252.60,606.95H254.80M252.60,600.27H253.80M252.60,593.58H253.80M252.60,586.89H253.80M252.60,580.20H253.80M252.60,573.52H254.80M252.60,566.83H253.80M252.60,560.14H253.80M252.60,553.46H253.80M252.60,546.77H253.80M252.60,540.08H254.80M252.60,533.39H253.80M252.60,526.71H253.80" stroke="#222" stroke-width="0.6" fill="none"/>
<text x="256.6" y="742.3" font-size="4.5" text-anchor="start" fill="#1c1c1c">0</text>
<text x="256.6" y="708.9" font-size="4.5" text-anchor="start" fill="#1c1c1c">5</text>
<text x="256.6" y="675.4" font-size="4.5" text-anchor="start" fill="#1c1c1c">10</text>
<text x="256.6" y="642.0" font-size="4.5" text-anchor="start" fill="#1c1c1c">15</text>
<text x="256.6" y="608.6" font-size="4.5" text-anchor="start" fill="#1c1c1c">20</text>
<text x="256.6" y="575.1" font-size="4.5" text-anchor="start" fill="#1c1c1c">25</text>
<text x="256.6" y="541.7" font-size="4.5" text-anchor="start" fill="#1c1c1c">30</text>
<text transform="translate(264.8,521.1) rotate(-90)" font-size="4.5" text-anchor="end" fill="#1c1c1c">H [ft]</text>
<line x1="269.5" y1="521.3" x2="269.5" y2="740.7" stroke="#222" stroke-width="0.8"/>
<path d="M269.50,740.70H271.50M269.50,718.33H270.50M269.50,695.95H271.50M269.50,673.58H270.50M269.50,651.21H271.50M269.50,628.84H270.50M269.50,606.46H271.50M269.50,584.09H270.50M269.50,561.72H271.50M269.50,539.35H270.50" stroke="#222" stroke-width="0.6" fill="none"/>
<text x="273.5" y="742.3" font-size="4.5" text-anchor="start" fill="#1c1c1c">0</text>
<text x="273.5" y="697.6" font-size="4.5" text-anchor="start" fill="#1c1c1c">20</text>
<text x="273.5" y="652.8" font-size="4.5" text-anchor="start" fill="#1c1c1c">40</text>
<text x="273.5" y="608.1" font-size="4.5" text-anchor="start" fill="#1c1c1c">60</text>
<text x="273.5" y="563.3" font-size="4.5" text-anchor="start" fill="#1c1c1c">80</text>
<text transform="translate(279.0,521.1) rotate(-90)" font-size="4.5" text-anchor="end" fill="#1c1c1c">H [kPa]</text>
<text transform="translate(283.8,752.0) rotate(-90)" font-size="4" text-anchor="middle" fill="#1c1c1c">02807_A_CH</text>
<line x1="208.0" y1="586.2" x2="179.1" y2="609.3" stroke="#222" stroke-width="0.65"/>
<line x1="208.2" y1="603.6" x2="177.3" y2="630.2" stroke="#222" stroke-width="0.65"/>
<line x1="208.2" y1="621.3" x2="171.4" y2="653.3" stroke="#222" stroke-width="0.65"/>
<line x1="208.1" y1="639.1" x2="167.7" y2="673.3" stroke="#222" stroke-width="0.65"/>
<path d="M84.4,532.3C85.1,532.6 87.1,533.6 88.5,534.2C89.9,534.9 91.2,535.6 92.6,536.3C94.0,537.0 95.3,537.7 96.7,538.4C98.1,539.1 99.4,539.8 100.8,540.6C102.2,541.3 103.5,542.1 104.9,542.9C106.3,543.7 107.6,544.5 109.0,545.3C110.4,546.1 111.7,547.0 113.1,547.8C114.5,548.7 115.8,549.6 117.2,550.5C118.6,551.4 119.9,552.3 121.3,553.3C122.7,554.3 124.0,555.2 125.4,556.2C126.8,557.2 128.1,558.3 129.5,559.3C130.9,560.4 132.2,561.5 133.6,562.6C135.0,563.7 136.3,564.8 137.7,566.0C139.1,567.1 140.4,568.3 141.8,569.5C143.2,570.8 144.5,572.0 145.9,573.3C147.3,574.6 148.6,575.9 150.0,577.2C151.4,578.6 152.7,580.0 154.1,581.4C155.5,582.8 156.8,584.3 158.2,585.7C159.6,587.2 160.9,588.7 162.3,590.3C163.7,591.9 165.0,593.5 166.4,595.1C167.8,596.7 169.1,598.4 170.5,600.1C171.9,601.8 173.2,603.6 174.6,605.3C176.0,607.1 177.3,609.0 178.7,610.8C180.1,612.7 181.4,614.6 182.8,616.5C184.2,618.4 185.5,620.4 186.9,622.4C188.3,624.4 189.6,626.4 191.0,628.4C192.4,630.4 193.7,632.5 195.1,634.6C196.5,636.7 197.8,638.8 199.2,640.9C200.6,643.0 201.9,645.2 203.3,647.3C204.7,649.5 206.0,651.7 207.4,653.9C208.8,656.0 210.1,658.2 211.5,660.5C212.9,662.7 214.2,664.9 215.6,667.1C217.0,669.3 218.3,671.6 219.7,673.8C221.1,676.1 222.4,678.3 223.8,680.6C225.2,682.9 226.5,685.1 227.9,687.4C229.3,689.7 230.6,692.0 232.0,694.3C233.4,696.7 234.7,699.0 236.1,701.3C237.5,703.7 238.8,706.0 240.2,708.4C241.6,710.8 242.9,713.2 244.3,715.6C245.7,718.0 247.0,720.4 248.4,722.8C249.8,725.2 251.8,728.9 252.5,730.2" stroke="#111" stroke-width="1.45" fill="none" stroke-linejoin="round"/>
<path d="M84.4,542.9C85.1,543.3 87.2,544.5 88.6,545.3C90.0,546.1 91.4,546.9 92.8,547.7C94.1,548.6 95.5,549.4 96.9,550.3C98.3,551.2 99.7,552.1 101.1,553.0C102.5,553.9 103.9,554.9 105.3,555.9C106.7,556.9 108.1,557.9 109.5,558.9C110.9,559.9 112.3,561.0 113.6,562.1C115.0,563.2 116.4,564.3 117.8,565.5C119.2,566.6 120.6,567.8 122.0,569.0C123.4,570.3 124.8,571.5 126.2,572.8C127.6,574.1 129.0,575.5 130.4,576.8C131.8,578.2 133.1,579.6 134.5,581.1C135.9,582.5 137.3,584.0 138.7,585.5C140.1,587.0 141.5,588.5 142.9,590.1C144.3,591.7 145.7,593.3 147.1,594.9C148.5,596.6 149.9,598.2 151.3,599.9C152.6,601.6 154.0,603.3 155.4,605.0C156.8,606.8 158.2,608.5 159.6,610.3C161.0,612.1 162.4,613.9 163.8,615.7C165.2,617.6 166.6,619.4 168.0,621.3C169.4,623.1 170.8,625.0 172.1,626.9C173.5,628.8 174.9,630.7 176.3,632.6C177.7,634.5 179.1,636.5 180.5,638.4C181.9,640.4 183.3,642.3 184.7,644.3C186.1,646.3 187.5,648.3 188.9,650.3C190.3,652.3 191.6,654.3 193.0,656.4C194.4,658.4 195.8,660.4 197.2,662.5C198.6,664.5 200.0,666.6 201.4,668.7C202.8,670.8 204.2,672.8 205.6,674.9C207.0,677.0 208.4,679.2 209.8,681.3C211.1,683.4 212.5,685.5 213.9,687.7C215.3,689.8 216.7,691.9 218.1,694.1C219.5,696.3 220.9,698.4 222.3,700.6C223.7,702.8 225.1,705.0 226.5,707.2C227.9,709.4 229.3,711.6 230.6,713.8C232.0,716.0 233.4,718.2 234.8,720.4C236.2,722.7 238.3,726.0 239.0,727.2" stroke="#111" stroke-width="1.45" fill="none" stroke-linejoin="round"/>
<path d="M84.4,554.3C85.1,554.9 87.2,556.6 88.6,557.6C89.9,558.7 91.3,559.8 92.7,560.9C94.1,562.0 95.5,563.0 96.9,564.1C98.2,565.2 99.6,566.3 101.0,567.4C102.4,568.5 103.8,569.6 105.2,570.7C106.5,571.8 107.9,573.0 109.3,574.1C110.7,575.3 112.1,576.5 113.5,577.8C114.8,579.0 116.2,580.3 117.6,581.6C119.0,582.9 120.4,584.3 121.8,585.7C123.1,587.1 124.5,588.5 125.9,590.0C127.3,591.5 128.7,593.0 130.1,594.6C131.4,596.1 132.8,597.7 134.2,599.4C135.6,601.1 137.0,602.8 138.3,604.5C139.7,606.3 141.1,608.1 142.5,609.9C143.9,611.7 145.3,613.6 146.7,615.5C148.0,617.5 149.4,619.4 150.8,621.4C152.2,623.4 153.6,625.4 154.9,627.5C156.3,629.5 157.7,631.6 159.1,633.7C160.5,635.7 161.9,637.9 163.2,640.0C164.6,642.1 166.0,644.2 167.4,646.4C168.8,648.5 170.2,650.7 171.6,652.8C172.9,655.0 174.3,657.1 175.7,659.3C177.1,661.5 178.5,663.6 179.8,665.7C181.2,667.9 182.6,670.0 184.0,672.2C185.4,674.3 186.8,676.4 188.1,678.5C189.5,680.6 190.9,682.7 192.3,684.8C193.7,686.9 195.1,688.9 196.4,691.0C197.8,693.0 199.2,695.1 200.6,697.1C202.0,699.1 203.4,701.1 204.8,703.0C206.1,705.0 207.5,707.0 208.9,708.9C210.3,710.8 211.7,712.7 213.0,714.5C214.4,716.3 215.8,718.2 217.2,719.9C218.6,721.7 220.0,723.5 221.3,725.2C222.7,726.9 224.8,729.3 225.5,730.1" stroke="#111" stroke-width="1.45" fill="none" stroke-linejoin="round"/>
<path d="M84.4,571.4C85.1,572.4 87.2,575.6 88.7,577.4C90.1,579.2 91.5,580.8 92.9,582.3C94.3,583.9 95.8,585.2 97.2,586.5C98.6,587.8 100.0,589.0 101.4,590.2C102.9,591.5 104.3,592.6 105.7,593.9C107.1,595.1 108.5,596.4 110.0,597.8C111.4,599.1 112.8,600.5 114.2,601.9C115.6,603.4 117.1,604.9 118.5,606.4C119.9,608.0 121.3,609.6 122.7,611.2C124.2,612.8 125.6,614.5 127.0,616.3C128.4,618.0 129.8,619.8 131.3,621.6C132.7,623.4 134.1,625.3 135.5,627.2C136.9,629.1 138.4,631.1 139.8,633.1C141.2,635.0 142.6,637.1 144.0,639.1C145.5,641.1 146.9,643.2 148.3,645.3C149.7,647.4 151.1,649.5 152.6,651.6C154.0,653.8 155.4,655.9 156.8,658.0C158.2,660.2 159.7,662.4 161.1,664.5C162.5,666.7 163.9,668.8 165.3,671.0C166.8,673.1 168.2,675.3 169.6,677.4C171.0,679.6 172.4,681.7 173.9,683.8C175.3,685.9 176.7,688.0 178.1,690.1C179.5,692.2 181.0,694.2 182.4,696.3C183.8,698.3 185.2,700.3 186.6,702.2C188.1,704.2 189.5,706.1 190.9,708.0C192.3,709.9 193.7,711.7 195.2,713.5C196.6,715.3 198.0,717.1 199.4,718.8C200.8,720.5 202.3,722.1 203.7,723.7C205.1,725.3 206.5,726.8 207.9,728.2C209.4,729.7 211.5,731.7 212.2,732.4" stroke="#111" stroke-width="1.45" fill="none" stroke-linejoin="round"/>
<circle cx="212.1" cy="583.0" r="5.1" fill="#fdfdfd" stroke="#1a1a1a" stroke-width="0.85"/>
<text x="212.1" y="585.4" font-size="6.8" text-anchor="middle" fill="#111" stroke="#111" stroke-width="0.15">4</text>
<circle cx="212.1" cy="600.2" r="5.1" fill="#fdfdfd" stroke="#1a1a1a" stroke-width="0.85"/>
<text x="212.1" y="602.6" font-size="6.8" text-anchor="middle" fill="#111" stroke="#111" stroke-width="0.15">3</text>
<circle cx="212.1" cy="617.9" r="5.1" fill="#fdfdfd" stroke="#1a1a1a" stroke-width="0.85"/>
<text x="212.1" y="620.3" font-size="6.8" text-anchor="middle" fill="#111" stroke="#111" stroke-width="0.15">2</text>
<circle cx="212.1" cy="635.7" r="5.1" fill="#fdfdfd" stroke="#1a1a1a" stroke-width="0.85"/>
<text x="212.1" y="638.1" font-size="6.8" text-anchor="middle" fill="#111" stroke="#111" stroke-width="0.15">1</text><rect x="410.45" y="463.50" width="226.3" height="302.9" fill="#fdfdfd" stroke="#2a2a2a" stroke-width="0.9"/>
<line x1="410.45" y1="495.30" x2="636.75" y2="495.30" stroke="#2a2a2a" stroke-width="0.9"/>
<line x1="523.95" y1="463.50" x2="523.95" y2="495.30" stroke="#2a2a2a" stroke-width="0.9"/>
<text x="453.8" y="481.8" font-size="6.5" text-anchor="start" fill="#222">FLC 50-5T</text>
<text x="579.8" y="481.8" font-size="6.5" text-anchor="middle" fill="#222">ISO 9906 - Annex A</text>
<path d="M433.20,521.30V740.70M439.92,521.30V740.70M446.65,521.30V740.70M453.37,521.30V740.70M460.10,521.30V740.70M466.82,521.30V740.70M473.54,521.30V740.70M480.27,521.30V740.70M486.99,521.30V740.70M493.72,521.30V740.70M500.44,521.30V740.70M507.16,521.30V740.70M513.89,521.30V740.70M520.61,521.30V740.70M527.34,521.30V740.70M534.06,521.30V740.70M540.78,521.30V740.70M547.51,521.30V740.70M554.23,521.30V740.70M560.96,521.30V740.70M567.68,521.30V740.70M574.40,521.30V740.70M581.13,521.30V740.70M587.85,521.30V740.70M594.58,521.30V740.70M601.30,521.30V740.70M433.20,740.70H601.30M433.20,733.39H601.30M433.20,726.07H601.30M433.20,718.76H601.30M433.20,711.45H601.30M433.20,704.13H601.30M433.20,696.82H601.30M433.20,689.51H601.30M433.20,682.19H601.30M433.20,674.88H601.30M433.20,667.57H601.30M433.20,660.25H601.30M433.20,652.94H601.30M433.20,645.63H601.30M433.20,638.31H601.30M433.20,631.00H601.30M433.20,623.69H601.30M433.20,616.37H601.30M433.20,609.06H601.30M433.20,601.75H601.30M433.20,594.43H601.30M433.20,587.12H601.30M433.20,579.81H601.30M433.20,572.49H601.30M433.20,565.18H601.30M433.20,557.87H601.30M433.20,550.55H601.30M433.20,543.24H601.30M433.20,535.93H601.30M433.20,528.61H601.30M433.20,521.30H601.30" stroke="#333" stroke-width="0.43" fill="none"/>
<path d="M433.20,521.30V742.20M466.82,521.30V742.20M500.44,521.30V742.20M534.06,521.30V742.20M567.68,521.30V742.20M601.30,521.30V742.20" stroke="#1a1a1a" stroke-width="0.7" fill="none"/>
<path d="M431.40,740.70H433.20M431.40,704.13H433.20M431.40,667.57H433.20M431.40,631.00H433.20M431.40,594.43H433.20M431.40,557.87H433.20M431.40,521.30H433.20" stroke="#1a1a1a" stroke-width="0.7" fill="none"/>
<path d="M433.20,740.70H601.30M433.20,704.13H601.30M433.20,667.57H601.30M433.20,631.00H601.30M433.20,594.43H601.30M433.20,557.87H601.30M433.20,521.30H601.30" stroke="#1a1a1a" stroke-width="0.65" fill="none"/>
<path d="M601.30,521.30H433.20V740.70H601.30" fill="none" stroke="#1a1a1a" stroke-width="1" stroke-linejoin="miter"/>
<path d="M601.30,521.30V740.70" fill="none" stroke="#222" stroke-width="0.65"/>
<text x="429.2" y="742.3" font-size="4.5" text-anchor="end" fill="#1c1c1c">0</text>
<text x="429.2" y="705.7" font-size="4.5" text-anchor="end" fill="#1c1c1c">1</text>
<text x="429.2" y="669.2" font-size="4.5" text-anchor="end" fill="#1c1c1c">2</text>
<text x="429.2" y="632.6" font-size="4.5" text-anchor="end" fill="#1c1c1c">3</text>
<text x="429.2" y="596.0" font-size="4.5" text-anchor="end" fill="#1c1c1c">4</text>
<text x="429.2" y="559.5" font-size="4.5" text-anchor="end" fill="#1c1c1c">5</text>
<text x="429.2" y="522.9" font-size="4.5" text-anchor="end" fill="#1c1c1c">6</text>
<text transform="translate(423.1,534.5) rotate(-90)" font-size="4.5" text-anchor="end" fill="#1c1c1c">H [m]</text>
<text x="433.2" y="749.0" font-size="4.5" text-anchor="middle" fill="#1c1c1c">0</text>
<text x="466.8" y="749.0" font-size="4.5" text-anchor="middle" fill="#1c1c1c">5</text>
<text x="500.4" y="749.0" font-size="4.5" text-anchor="middle" fill="#1c1c1c">10</text>
<text x="534.1" y="749.0" font-size="4.5" text-anchor="middle" fill="#1c1c1c">15</text>
<text x="567.7" y="749.0" font-size="4.5" text-anchor="middle" fill="#1c1c1c">20</text>
<text x="601.3" y="749.0" font-size="4.5" text-anchor="middle" fill="#1c1c1c">25</text>
<text x="582.5" y="749.0" font-size="4.5" text-anchor="middle" fill="#1c1c1c">Q [m³/h]</text>
<line x1="433.2" y1="753.5" x2="601.3" y2="753.5" stroke="#222" stroke-width="0.8"/>
<path d="M433.20,753.50V755.90M438.04,753.50V754.70M442.88,753.50V754.70M447.72,753.50V754.70M452.57,753.50V754.70M457.41,753.50V754.70M462.25,753.50V754.70M467.09,753.50V754.70M471.93,753.50V754.70M476.77,753.50V754.70M481.61,753.50V755.90M486.45,753.50V754.70M491.30,753.50V754.70M496.14,753.50V754.70M500.98,753.50V754.70M505.82,753.50V754.70M510.66,753.50V754.70M515.50,753.50V754.70M520.34,753.50V754.70M525.18,753.50V754.70M530.03,753.50V755.90M534.87,753.50V754.70M539.71,753.50V754.70M544.55,753.50V754.70M549.39,753.50V754.70M554.23,753.50V754.70M559.07,753.50V754.70M563.91,753.50V754.70M568.76,753.50V754.70M573.60,753.50V754.70M578.44,753.50V755.90M583.28,753.50V754.70M588.12,753.50V754.70M592.96,753.50V754.70M597.80,753.50V754.70" stroke="#333" stroke-width="0.5" fill="none"/>
<text x="433.2" y="761.8" font-size="4.5" text-anchor="middle" fill="#1c1c1c">0</text>
<text x="481.6" y="761.8" font-size="4.5" text-anchor="middle" fill="#1c1c1c">2</text>
<text x="530.0" y="761.8" font-size="4.5" text-anchor="middle" fill="#1c1c1c">4</text>
<text x="578.4" y="761.8" font-size="4.5" text-anchor="middle" fill="#1c1c1c">6</text>
<text x="596.6" y="761.8" font-size="4.5" text-anchor="middle" fill="#1c1c1c">Q [l/s]</text>
<line x1="433.2" y1="508.5" x2="601.3" y2="508.5" stroke="#222" stroke-width="0.8"/>
<path d="M433.20,505.90V508.50M442.37,506.20V508.50M451.54,506.20V508.50M460.71,506.20V508.50M469.88,505.90V508.50M479.05,506.20V508.50M488.22,506.20V508.50M497.40,506.20V508.50M506.57,505.90V508.50M515.74,506.20V508.50M524.91,506.20V508.50M534.08,506.20V508.50M543.25,505.90V508.50M552.42,506.20V508.50M561.59,506.20V508.50M570.76,506.20V508.50M579.93,505.90V508.50M589.10,506.20V508.50M598.27,506.20V508.50" stroke="#222" stroke-width="0.6" fill="none"/>
<text x="433.2" y="505.2" font-size="4.5" text-anchor="middle" fill="#1c1c1c">0</text>
<text x="469.9" y="505.2" font-size="4.5" text-anchor="middle" fill="#1c1c1c">20</text>
<text x="506.6" y="505.2" font-size="4.5" text-anchor="middle" fill="#1c1c1c">40</text>
<text x="543.2" y="505.2" font-size="4.5" text-anchor="middle" fill="#1c1c1c">60</text>
<text x="579.9" y="505.2" font-size="4.5" text-anchor="middle" fill="#1c1c1c">80</text>
<text x="592.1" y="503.5" font-size="4.5" text-anchor="start" fill="#1c1c1c">Q [Imp gpm]</text>
<path d="M433.20,518.70V521.30M440.84,519.00V521.30M448.47,519.00V521.30M456.11,519.00V521.30M463.74,518.70V521.30M471.38,519.00V521.30M479.01,519.00V521.30M486.65,519.00V521.30M494.29,518.70V521.30M501.92,519.00V521.30M509.56,519.00V521.30M517.19,519.00V521.30M524.83,518.70V521.30M532.46,519.00V521.30M540.10,519.00V521.30M547.74,519.00V521.30M555.37,518.70V521.30M563.01,519.00V521.30M570.64,519.00V521.30M578.28,519.00V521.30M585.91,518.70V521.30M593.55,519.00V521.30M601.19,519.00V521.30" stroke="#222" stroke-width="0.6" fill="none"/>
<text x="433.2" y="517.7" font-size="4.5" text-anchor="middle" fill="#1c1c1c">0</text>
<text x="463.7" y="517.7" font-size="4.5" text-anchor="middle" fill="#1c1c1c">20</text>
<text x="494.3" y="517.7" font-size="4.5" text-anchor="middle" fill="#1c1c1c">40</text>
<text x="524.8" y="517.7" font-size="4.5" text-anchor="middle" fill="#1c1c1c">60</text>
<text x="555.4" y="517.7" font-size="4.5" text-anchor="middle" fill="#1c1c1c">80</text>
<text x="585.9" y="517.7" font-size="4.5" text-anchor="middle" fill="#1c1c1c">100</text>
<text x="592.1" y="516.5" font-size="4.5" text-anchor="start" fill="#1c1c1c">Q [US gpm]</text>
<path d="M601.30,740.70H603.50M601.30,729.55H602.50M601.30,718.41H602.50M601.30,707.26H602.50M601.30,696.12H602.50M601.30,684.97H603.50M601.30,673.83H602.50M601.30,662.68H602.50M601.30,651.54H602.50M601.30,640.39H602.50M601.30,629.24H603.50M601.30,618.10H602.50M601.30,606.95H602.50M601.30,595.81H602.50M601.30,584.66H602.50M601.30,573.52H603.50M601.30,562.37H602.50M601.30,551.23H602.50M601.30,540.08H602.50M601.30,528.94H602.50" stroke="#222" stroke-width="0.6" fill="none"/>
<text x="605.3" y="742.3" font-size="4.5" text-anchor="start" fill="#1c1c1c">0</text>
<text x="605.3" y="686.6" font-size="4.5" text-anchor="start" fill="#1c1c1c">5</text>
<text x="605.3" y="630.8" font-size="4.5" text-anchor="start" fill="#1c1c1c">10</text>
<text x="605.3" y="575.1" font-size="4.5" text-anchor="start" fill="#1c1c1c">15</text>
<text transform="translate(613.5,521.1) rotate(-90)" font-size="4.5" text-anchor="end" fill="#1c1c1c">H [ft]</text>
<line x1="617.5" y1="521.3" x2="617.5" y2="740.7" stroke="#222" stroke-width="0.8"/>
<path d="M617.50,740.70H619.50M617.50,722.06H618.50M617.50,703.41H619.50M617.50,684.77H618.50M617.50,666.12H619.50M617.50,647.48H618.50M617.50,628.84H619.50M617.50,610.19H618.50M617.50,591.55H619.50M617.50,572.91H618.50M617.50,554.26H619.50M617.50,535.62H618.50" stroke="#222" stroke-width="0.6" fill="none"/>
<text x="621.5" y="742.3" font-size="4.5" text-anchor="start" fill="#1c1c1c">0</text>
<text x="621.5" y="705.0" font-size="4.5" text-anchor="start" fill="#1c1c1c">10</text>
<text x="621.5" y="667.7" font-size="4.5" text-anchor="start" fill="#1c1c1c">20</text>
<text x="621.5" y="630.4" font-size="4.5" text-anchor="start" fill="#1c1c1c">30</text>
<text x="621.5" y="593.1" font-size="4.5" text-anchor="start" fill="#1c1c1c">40</text>
<text x="621.5" y="555.9" font-size="4.5" text-anchor="start" fill="#1c1c1c">50</text>
<text transform="translate(627.7,521.1) rotate(-90)" font-size="4.5" text-anchor="end" fill="#1c1c1c">H [kPa]</text>
<text transform="translate(632.5,752.0) rotate(-90)" font-size="4" text-anchor="middle" fill="#1c1c1c">02808_A_CH</text>
<line x1="550.3" y1="589.8" x2="517.3" y2="617.5" stroke="#222" stroke-width="0.65"/>
<line x1="550.4" y1="607.0" x2="519.0" y2="634.0" stroke="#222" stroke-width="0.65"/>
<line x1="550.3" y1="624.5" x2="515.5" y2="654.1" stroke="#222" stroke-width="0.65"/>
<line x1="550.3" y1="642.3" x2="511.6" y2="674.0" stroke="#222" stroke-width="0.65"/>
<path d="M433.0,564.6C433.7,564.1 435.8,562.2 437.1,561.4C438.5,560.6 439.9,560.0 441.3,559.6C442.7,559.2 444.1,559.0 445.4,559.0C446.8,559.0 448.2,559.1 449.6,559.4C451.0,559.7 452.4,560.2 453.8,560.8C455.1,561.3 456.5,562.0 457.9,562.8C459.3,563.6 460.7,564.5 462.1,565.4C463.4,566.3 464.8,567.3 466.2,568.3C467.6,569.3 469.0,570.4 470.4,571.4C471.7,572.5 473.1,573.6 474.5,574.7C475.9,575.8 477.3,577.0 478.6,578.2C480.0,579.4 481.4,580.6 482.8,581.8C484.2,583.1 485.6,584.4 486.9,585.7C488.3,587.0 489.7,588.3 491.1,589.7C492.5,591.1 493.9,592.5 495.2,593.9C496.6,595.4 498.0,596.8 499.4,598.3C500.8,599.9 502.2,601.4 503.6,603.0C504.9,604.6 506.3,606.2 507.7,607.9C509.1,609.6 510.5,611.3 511.9,613.1C513.2,614.9 514.6,616.8 516.0,618.7C517.4,620.7 518.8,622.7 520.1,624.8C521.5,626.9 522.9,629.1 524.3,631.3C525.7,633.6 527.1,635.9 528.5,638.3C529.8,640.7 531.2,643.2 532.6,645.8C534.0,648.3 535.4,650.9 536.8,653.6C538.1,656.2 539.5,658.9 540.9,661.7C542.3,664.4 543.7,667.2 545.0,670.1C546.4,672.9 547.8,675.8 549.2,678.8C550.6,681.7 552.0,684.7 553.4,687.8C554.7,690.8 556.1,693.9 557.5,697.1C558.9,700.2 560.3,703.4 561.6,706.7C563.0,710.0 564.4,713.3 565.8,716.7C567.2,720.1 568.6,723.5 570.0,727.0C571.3,730.5 573.4,735.9 574.1,737.7" stroke="#111" stroke-width="1.45" fill="none" stroke-linejoin="round"/>
<path d="M433.0,566.7C433.7,566.5 435.8,565.5 437.2,565.2C438.6,564.9 440.0,564.9 441.4,565.0C442.8,565.1 444.2,565.4 445.7,565.8C447.1,566.3 448.5,566.9 449.9,567.6C451.3,568.3 452.7,569.2 454.1,570.1C455.5,571.0 456.9,572.1 458.3,573.2C459.7,574.3 461.1,575.5 462.5,576.7C463.9,577.9 465.3,579.1 466.8,580.4C468.2,581.7 469.6,582.9 471.0,584.2C472.4,585.5 473.8,586.8 475.2,588.1C476.6,589.5 478.0,590.8 479.4,592.2C480.8,593.5 482.2,594.9 483.6,596.4C485.0,597.8 486.4,599.3 487.8,600.8C489.2,602.3 490.7,603.8 492.1,605.4C493.5,606.9 494.9,608.5 496.3,610.2C497.7,611.9 499.1,613.6 500.5,615.3C501.9,617.1 503.3,618.9 504.7,620.7C506.1,622.6 507.5,624.5 508.9,626.4C510.3,628.4 511.8,630.4 513.2,632.4C514.6,634.5 516.0,636.6 517.4,638.7C518.8,640.9 520.2,643.1 521.6,645.3C523.0,647.5 524.4,649.8 525.8,652.1C527.2,654.4 528.6,656.8 530.0,659.2C531.4,661.6 532.8,664.0 534.2,666.5C535.7,669.0 537.1,671.5 538.5,674.1C539.9,676.6 541.3,679.2 542.7,681.9C544.1,684.6 545.5,687.2 546.9,690.0C548.3,692.8 549.7,695.6 551.1,698.6C552.5,701.5 553.9,704.6 555.3,707.7C556.8,710.9 558.2,714.1 559.6,717.5C561.0,720.9 562.4,724.4 563.8,728.1C565.2,731.8 567.3,737.7 568.0,739.6" stroke="#111" stroke-width="1.45" fill="none" stroke-linejoin="round"/>
<path d="M433.0,575.3C433.7,575.0 435.8,573.9 437.2,573.7C438.6,573.4 440.0,573.4 441.3,573.6C442.7,573.8 444.1,574.3 445.5,574.9C446.9,575.6 448.3,576.4 449.7,577.3C451.1,578.3 452.5,579.4 453.9,580.6C455.3,581.8 456.6,583.1 458.0,584.5C459.4,585.8 460.8,587.3 462.2,588.7C463.6,590.2 465.0,591.7 466.4,593.2C467.8,594.7 469.2,596.3 470.6,597.9C471.9,599.5 473.3,601.1 474.7,602.8C476.1,604.4 477.5,606.1 478.9,607.8C480.3,609.5 481.7,611.3 483.1,613.0C484.5,614.8 485.9,616.6 487.2,618.4C488.6,620.2 490.0,622.0 491.4,623.9C492.8,625.7 494.2,627.6 495.6,629.4C497.0,631.3 498.4,633.2 499.8,635.1C501.1,637.0 502.5,639.0 503.9,640.9C505.3,642.9 506.7,644.9 508.1,646.9C509.5,648.9 510.9,651.0 512.3,653.1C513.7,655.2 515.1,657.3 516.4,659.5C517.8,661.7 519.2,663.9 520.6,666.2C522.0,668.4 523.4,670.7 524.8,673.1C526.2,675.5 527.6,677.9 529.0,680.4C530.4,682.9 531.7,685.4 533.1,688.0C534.5,690.6 535.9,693.3 537.3,696.0C538.7,698.7 540.1,701.5 541.5,704.4C542.9,707.3 544.3,710.3 545.7,713.3C547.0,716.3 548.4,719.4 549.8,722.6C551.2,725.8 553.3,730.8 554.0,732.5" stroke="#111" stroke-width="1.45" fill="none" stroke-linejoin="round"/>
<path d="M433.0,584.7C433.7,584.7 435.9,584.5 437.3,584.7C438.7,585.0 440.2,585.6 441.6,586.3C443.0,587.0 444.5,588.0 445.9,589.1C447.3,590.2 448.8,591.5 450.2,592.9C451.6,594.2 453.1,595.8 454.5,597.3C455.9,598.8 457.4,600.5 458.8,602.1C460.2,603.7 461.7,605.4 463.1,607.0C464.5,608.7 466.0,610.4 467.4,612.0C468.8,613.7 470.3,615.4 471.7,617.1C473.1,618.9 474.6,620.6 476.0,622.4C477.4,624.2 478.9,626.0 480.3,627.9C481.7,629.8 483.2,631.7 484.6,633.7C486.0,635.7 487.5,637.7 488.9,639.8C490.3,641.9 491.8,644.1 493.2,646.3C494.6,648.5 496.1,650.7 497.5,653.0C498.9,655.3 500.4,657.7 501.8,660.0C503.2,662.4 504.7,664.8 506.1,667.3C507.5,669.7 509.0,672.2 510.4,674.6C511.8,677.1 513.3,679.6 514.7,682.1C516.1,684.6 517.6,687.2 519.0,689.7C520.4,692.3 521.9,694.9 523.3,697.5C524.7,700.1 526.2,702.7 527.6,705.4C529.0,708.1 530.5,710.8 531.9,713.6C533.3,716.4 534.8,719.2 536.2,722.1C537.6,725.0 539.8,729.5 540.5,731.0" stroke="#111" stroke-width="1.45" fill="none" stroke-linejoin="round"/>
<circle cx="554.3" cy="586.5" r="5.1" fill="#fdfdfd" stroke="#1a1a1a" stroke-width="0.85"/>
<text x="554.3" y="588.9" font-size="6.8" text-anchor="middle" fill="#111" stroke="#111" stroke-width="0.15">4</text>
<circle cx="554.3" cy="603.6" r="5.1" fill="#fdfdfd" stroke="#1a1a1a" stroke-width="0.85"/>
<text x="554.3" y="606.0" font-size="6.8" text-anchor="middle" fill="#111" stroke="#111" stroke-width="0.15">3</text>
<circle cx="554.3" cy="621.1" r="5.1" fill="#fdfdfd" stroke="#1a1a1a" stroke-width="0.85"/>
<text x="554.3" y="623.5" font-size="6.8" text-anchor="middle" fill="#111" stroke="#111" stroke-width="0.15">2</text>
<circle cx="554.3" cy="639.0" r="5.1" fill="#fdfdfd" stroke="#1a1a1a" stroke-width="0.85"/>
<text x="554.3" y="641.4" font-size="6.8" text-anchor="middle" fill="#111" stroke="#111" stroke-width="0.15">1</text>
</svg>
<div id="tab"></div><div id="tabn">2</div>
<div class="t" id="f1">Le prestazioni dichiarate valgono per liquidi con densità ρ = 1.0 kg/dm<sup>3</sup></div>
<div class="t" id="f2">ed una viscosità cinematica ν = 1 mm<sup>2</sup>/sec.</div>
<div class="t" id="pn">215</div>
</body></html>
